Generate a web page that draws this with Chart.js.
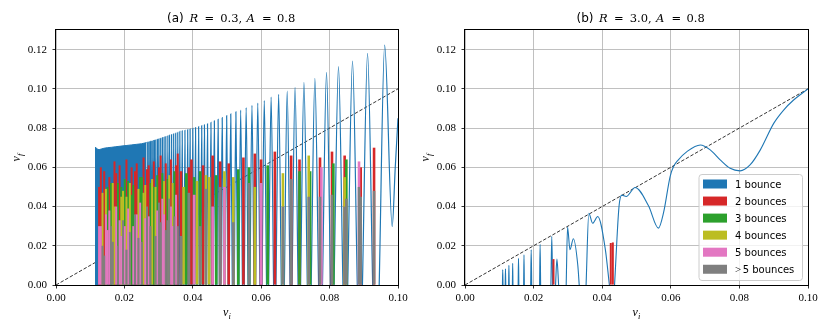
<!DOCTYPE html>
<html><head><meta charset="utf-8">
<script src="https://cdn.jsdelivr.net/npm/chart.js@4/dist/chart.umd.min.js"></script>
<style>
html,body{margin:0;padding:0;background:#fff;}
#wrap{position:relative;width:830px;height:332px;overflow:hidden;}
#ca{position:absolute;left:0;top:0;}
#cb{position:absolute;left:415px;top:0;}
</style></head><body>
<div id="wrap"><canvas id="ca" width="415" height="332"></canvas><canvas id="cb" width="415" height="332"></canvas></div>
<script>
// ---------- shared ----------
const xTicks = [0, 0.02, 0.04, 0.06, 0.08, 0.10];
const yTicks = [0, 0.02, 0.04, 0.06, 0.08, 0.10, 0.12];
const panelTags = ['(a)', '(b)'];
const panelR = ['0.3', '3.0'];
const panelA = ['0.8', '0.8'];
const bounceLabels = ['1 bounce', '2 bounces', '3 bounces', '4 bounces', '5 bounces', '>5 bounces'];
const bounceColors = ['#1f77b4', '#d62728', '#2ca02c', '#bcbd22', '#e377c2', '#7f7f7f'];
const diagX = [0, 0.1];
const diagY = [0, 0.1];

// ---------- panel (a): unresolved 1-bounce band (envelope) ----------
const aDenseX = [0.0114, 0.0118, 0.0122, 0.0126, 0.0132, 0.0140, 0.0150, 0.0162, 0.0175, 0.0190, 0.0205, 0.0220, 0.0235, 0.0250, 0.0265];
const aDenseY = [0.0702, 0.0698, 0.0692, 0.0690, 0.0693, 0.0697, 0.0700, 0.0702, 0.0705, 0.0708, 0.0711, 0.0714, 0.0717, 0.0720, 0.0726];

// ---------- panel (a): resolved 1-bounce arches ----------
const aArchX = [0.0268, 0.0272, 0.0276, 0.0280, 0.0284, 0.0288, 0.0292, 0.0297, 0.0301, 0.0306, 0.0311, 0.0316, 0.0321, 0.0327, 0.0332, 0.0338, 0.0344, 0.0350, 0.0356,
  0.0362, 0.0369, 0.0377, 0.0385, 0.0392, 0.0400, 0.0408, 0.0417, 0.0426, 0.0434, 0.0443, 0.0453, 0.0463, 0.0474, 0.0486, 0.0499, 0.0511, 0.0526, 0.0540, 0.0556,
  0.0573, 0.0590, 0.0609, 0.0629, 0.0651, 0.0676, 0.0699, 0.0725, 0.0757, 0.0791, 0.0826, 0.0867, 0.0911, 0.0961];
const aArchTop = [0.0728, 0.0730, 0.0732, 0.0734, 0.0736, 0.0738, 0.0740, 0.0743, 0.0745, 0.0748, 0.0751, 0.0754, 0.0757, 0.0761, 0.0764, 0.0767, 0.0771, 0.0774, 0.0778,
  0.0783, 0.0786, 0.0789, 0.0792, 0.0795, 0.0799, 0.0803, 0.0807, 0.0812, 0.0817, 0.0822, 0.0829, 0.0837, 0.0845, 0.0853, 0.0863, 0.0872, 0.0883, 0.0892, 0.0904,
  0.0916, 0.0927, 0.0941, 0.0958, 0.0972, 0.0989, 0.1008, 0.1033, 0.1053, 0.1084, 0.1113, 0.1141, 0.1181, 0.1223];
const aArchHalf = [0.00012, 0.00012, 0.00012, 0.00013, 0.00013, 0.00013, 0.00014, 0.00014, 0.00014, 0.00015, 0.00015, 0.00016, 0.00016, 0.00017, 0.00017, 0.00018, 0.00018, 0.00019, 0.00020,
  0.00021, 0.00022, 0.00023, 0.00024, 0.00025, 0.00026, 0.00027, 0.00028, 0.00029, 0.00030, 0.00031, 0.00033, 0.00035, 0.00037, 0.00040, 0.00042, 0.00045, 0.00048, 0.00051, 0.00055,
  0.00058, 0.00062, 0.00066, 0.00072, 0.00078, 0.00083, 0.00088, 0.00098, 0.00108, 0.00118, 0.00130, 0.00140, 0.00150, 0.00160];
const aTailX = [0.0983, 0.0992, 0.1000];
const aTailY = [0.0298, 0.0600, 0.0850];

// ---------- panel (a): multi-bounce columns (height of each bounce count per column) ----------
// first 47 columns: unresolved band; remaining columns: gaps between 1-bounce arches
const denseCount = 47;
const colX = [0.0126,0.0131,0.0136,0.0141,0.0146,0.0151,0.0156,0.0161,0.0166,0.0171,
  0.0176,0.0181,0.0186,0.0191,0.0196,0.0201,0.0206,0.0211,0.0216,0.0221,
  0.0226,0.0231,0.0236,0.0241,0.0246,0.0251,0.0256,0.0261,0.0266,0.0271,
  0.0276,0.0281,0.0286,0.0291,0.0296,0.0301,0.0306,0.0311,0.0316,0.0321,
  0.0326,0.0331,0.0336,0.0341,0.0346,0.0351,0.0356,
  0.03655,0.0373,0.0381,0.03885,0.0396,0.0404,0.04125,0.04215,0.0430,0.04385,
  0.0448,0.0458,0.04685,0.0480,0.04925,0.0505,0.05185,0.0533,0.0548,0.05645,
  0.05815,0.05995,0.0619,0.0640,0.06635,0.06875,0.0712,0.0739,0.0743,0.0772,
  0.0776,0.0807,0.0811,0.0844,0.0849,0.0886,0.0891,0.0930];
const col2 = [.050,.060,0,.058,0,0,.055,0,0,.063, .057,0,.061,0,0,0,.064,0,0,.060,
  0,.058,.062,0,0,0,.065,0,.059,.061, 0,0,.063,0,0,.060,.066,0,0,.062, 0,0,.064,0,0,.061,.067,
  .058,0,0,.060,.064,0,0,0,.061,0, 0,.066,0,.063,0,.062,0,0,.065,0,
  .067,.064,0,.068,0,.066,.064,0,0,.065, 0,.068,0,.066,0,0,.060,.070];
const col3 = [0,0,0,0,0,.050,0,.052,0,0, 0,.052,0,.050,0,.054,0,.053,0,.046,
  .051,0,0,0,.055,.055,0,0,0,0, .052,0,.050,0,.056,0,0,.057,0,0, .054,0,0,0,.058,0,0,
  0,0,.057,0,0,.055,0,.058,0,0, 0,0,.056,0,0,0,0,.059,0,.060,
  0,0,.061,0,0,0,.058,0,.058,0, 0,0,.062,0,.064,0,0,0];
const col4 = [0,0,.047,0,.049,0,0,0,.052,.040, 0,0,0,.045,.048,0,.045,0,.052,0,
  0,0,0,.049,0,0,.047,.051,0,0, 0,.054,0,.050,0,0,0,0,.053,0, 0,.056,0,.052,0,0,0,
  0,.050,0,0,0,0,.053,0,0,.056, .055,0,0,0,.058,0,.055,0,0,0,
  .050,0,0,0,.057,0,0,.066,0,0, 0,0,0,.055,0,0,0,0];
const col5 = [.030,.030,0,0,.036,.028,.038,0,0,0, .040,0,.033,.025,0,.030,0,.039,0,0,
  .030,0,.036,0,.042,0,0,.034,0,.035, 0,0,0,0,.038,0,0,.044,.036,0, 0,0,.040,.030,0,.046,0,
  0,0,0,0,0,.046,0,0,0,0, 0,.040,0,0,.050,0,0,0,0,0,
  0,.052,0,0,0,0,0,0,0,0, .060,0,0,0,0,.063,0,0];
const col6 = [0,0,.020,.015,0,0,0,.030,.022,0, 0,.020,0,0,.033,0,.018,0,.027,0,
  0,.036,0,.024,0,.022,0,0,.040,0, .030,0,0,.025,0,.042,.032,0,0,.028, .033,.044,0,0,.035,0,.030,
  .025,0,0,.047,0,0,0,.030,0,.049, 0,0,0,.050,0,0,.032,0,0,.052,
  0,0,0,0,.040,.054,0,.045,0,.045, 0,.046,0,.040,.044,.050,.045,.048];

// ---------- panel (b) ----------
const bLineX = [0.01092,0.0110,0.01108,0.01108,
  0.01172,0.0118,0.01188,0.01188,
  0.01272,0.0128,0.01288,0.01288,
  0.01382,0.0139,0.01398,0.01398,
  0.01550,0.0156,0.01570,0.01570,
  0.01710,0.0172,0.01730,0.01730,
  0.01915,0.0193,0.01945,0.01945,
  0.02175,0.0219,0.02205,0.02205,
  0.02505,0.0253,0.02555,0.02555,
  0.0264,0.0268,0.0273,0.0273,
  0.0295,0.0299,0.0306,0.0316,0.0329,0.0333,0.0333,
  0.0353,0.0361,0.0372,0.0387,0.0409,0.0421,0.0421,
  0.0436,0.0449,0.0457,0.0470,0.0496,0.0535,0.0564,0.0579,0.0598,0.0608,0.0622,0.0647,0.0686,0.0715,0.0744,0.0773,0.0802,0.0831,0.0861,0.0900,0.0929,0.0958,0.1000];
const bLineY = [0,0.0078,0,null,
  0,0.0083,0,null,
  0,0.0100,0,null,
  0,0.0110,0,null,
  0,0.0136,0,null,
  0,0.0154,0,null,
  0,0.0180,0,null,
  0,0.0207,0,null,
  0,0.0248,0,null,
  0,0.0132,0,null,
  0,0.0295,0.0180,0.0236,0.0098,0,null,
  0,0.0366,0.0315,0.0349,0.0183,0,null,
  0,0.0400,0.0458,0.0451,0.0497,0.0404,0.0290,0.0370,0.0553,0.0604,0.0638,0.0680,0.0714,0.0689,0.0638,0.0595,0.0582,0.0612,0.0689,0.0824,0.0892,0.0943,0.1000];
const bRedX = [0.0258, 0.0425, 0.0431];
const bRedY = [0.0132, 0.0214, 0.0217];

// ---------- build ----------
const pts = (xs, ys) => xs.map((x, i) => ({x, y: ys[i]}));
function archPoints() {
  const p = [];
  for (let i = 0; i < aArchX.length; i++) {
    p.push({x: aArchX[i] - aArchHalf[i], y: 0}, {x: aArchX[i], y: aArchTop[i]});
    if (i < aArchX.length - 1) {
      p.push({x: aArchX[i] + aArchHalf[i], y: 0}, {x: aArchX[i] + aArchHalf[i], y: null});
    }
  }
  aTailX.forEach((x, j) => p.push({x, y: aTailY[j]}));
  return p;
}
const colPts = (arr, dense) => colX.map((x, i) => ({x, y: arr[i], d: i < denseCount}))
  .filter(p => p.y > 0 && p.d === dense).map(p => ({x: p.x, y: p.y}));

const tickFont = {family: '"Liberation Serif", "Times New Roman", serif', size: 11};
function gridOpts() {
  return {color: '#b0b0b0', lineWidth: 0.8, drawTicks: true, tickLength: 3.5, tickColor: '#000', tickWidth: 0.8, offset: false};
}
function makeScales(yW) {
  return {
    x: {type: 'linear', min: 0, max: 0.1, offset: false,
      afterBuildTicks: s => { s.ticks = xTicks.map(v => ({value: v})); },
      afterFit: s => { s.height = 47; },
      ticks: {callback: v => Number(v).toFixed(2), font: tickFont, color: '#000', padding: 3, maxRotation: 0, minRotation: 0, autoSkip: false},
      grid: gridOpts(), border: {display: false}},
    y: {type: 'linear', min: 0, max: 0.13, stacked: false,
      afterBuildTicks: s => { s.ticks = yTicks.map(v => ({value: v})); },
      afterFit: s => { s.width = yW; },
      ticks: {callback: v => Number(v).toFixed(2), font: tickFont, color: '#000', padding: 5.5, autoSkip: false},
      grid: gridOpts(), border: {display: false}}
  };
}

const framePlugin = {
  id: 'frame',
  afterDatasetsDraw(chart) {
    const a = chart.chartArea, ctx = chart.ctx;
    ctx.save();
    ctx.strokeStyle = '#000'; ctx.lineWidth = 1;
    ctx.strokeRect(a.left - 0.5, a.top - 0.5, a.right - a.left + 1, a.bottom - a.top + 1);
    ctx.restore();
  }
};

function textPlugin(k) {
  return {
    id: 'txt' + k,
    afterDraw(chart) {
      const a = chart.chartArea, ctx = chart.ctx;
      ctx.save();
      ctx.fillStyle = '#000'; ctx.textAlign = 'left'; ctx.textBaseline = 'alphabetic';
      const sans = '12px "DejaVu Sans"', it = 'italic 11.5px "DejaVu Serif"', rm = '11.5px "DejaVu Serif"';
      const cx = (a.left + a.right) / 2, x0 = cx - 60, ty = 22;
      [[panelTags[k], sans, 0], ['R', it, 22.6], ['=', rm, 37.5], [panelR[k] + ',', rm, 53.3],
       ['A', it, 79.5], ['=', rm, 95], [panelA[k], rm, 110]].forEach(([t, f, dx]) => {
        ctx.font = f; ctx.fillText(t, x0 + dx, ty);
      });
      // x label v_i
      ctx.font = 'italic 12px "Liberation Serif"';
      ctx.fillText('v', cx - 4, 316);
      ctx.font = 'italic 8.5px "Liberation Serif"';
      ctx.fillText('i', cx + 1.5, 318.5);
      // y label v_f
      const cy = (a.top + a.bottom) / 2;
      ctx.translate(k === 0 ? 20 : 14, cy);
      ctx.rotate(-Math.PI / 2);
      ctx.font = 'italic 12px "Liberation Serif"';
      ctx.fillText('v', -4, 0);
      ctx.font = 'italic 8.5px "Liberation Serif"';
      ctx.fillText('f', 1.5, 2.5);
      ctx.restore();
    }
  };
}

const legendPlugin = {
  id: 'bounceLegend',
  afterDraw(chart) {
    const ctx = chart.ctx, a = chart.chartArea;
    const L = a.right - 109.5, T = a.top + 144, W = 103.5, H = 106;
    ctx.save();
    ctx.beginPath();
    if (ctx.roundRect) ctx.roundRect(L + 0.5, T + 0.5, W, H, 3); else ctx.rect(L + 0.5, T + 0.5, W, H);
    ctx.fillStyle = 'rgba(255,255,255,0.8)'; ctx.fill();
    ctx.strokeStyle = '#cccccc'; ctx.lineWidth = 1; ctx.stroke();
    bounceLabels.forEach((lab, i) => {
      const cy = T + 10 + i * 17.05;
      ctx.fillStyle = bounceColors[i];
      ctx.fillRect(L + 4.5, cy - 4.5, 24, 9);
      ctx.fillStyle = '#000'; ctx.textBaseline = 'alphabetic'; ctx.textAlign = 'left';
      let x = L + 36.5, t = lab;
      if (t.startsWith('>')) {
        ctx.font = '11px "Liberation Serif"';
        ctx.fillText('>', x, cy + 3.6);
        x += ctx.measureText('>').width + 1.5; t = t.slice(1);
      }
      ctx.font = '10px "DejaVu Sans"';
      ctx.fillText(t, x, cy + 3.6);
    });
    ctx.restore();
  }
};

function barSet(data, color, order, thick) {
  return {type: 'bar', data, backgroundColor: color, borderWidth: 0, barThickness: thick, grouped: false, inflateAmount: 0, order};
}
const common = {responsive: false, animation: false, devicePixelRatio: 1, events: [],
  plugins: {legend: {display: false}, tooltip: {enabled: false}, title: {display: false}}};

const colSeries = [col2, col3, col4, col5, col6];
const colSets = [];
colSeries.forEach((arr, k) => {
  colSets.push(barSet(colPts(arr, true), bounceColors[k + 1], 5 - k, 2));
  colSets.push(barSet(colPts(arr, false), bounceColors[k + 1], 5 - k, 2.6));
});

new Chart(document.getElementById('ca'), {
  type: 'line',
  data: {datasets: [
    {type: 'line', data: pts(diagX, diagY), borderColor: '#000', borderWidth: 0.8, borderDash: [3.5, 1.8], pointRadius: 0, tension: 0, order: 20},
    {type: 'line', data: pts(aDenseX, aDenseY), borderColor: bounceColors[0], backgroundColor: bounceColors[0], borderWidth: 1, fill: 'origin', pointRadius: 0, tension: 0, order: 19},
    {type: 'line', data: archPoints(), borderColor: bounceColors[0], borderWidth: 1.2, fill: false, pointRadius: 0, cubicInterpolationMode: 'monotone', spanGaps: false, order: 18}
  ].concat(colSets)},
  options: Object.assign({}, common, {layout: {padding: {left: 0, right: 17, top: 30, bottom: 0}}, scales: makeScales(56)}),
  plugins: [framePlugin, textPlugin(0)]
});

new Chart(document.getElementById('cb'), {
  type: 'line',
  data: {datasets: [
    {type: 'line', data: pts(diagX, diagY), borderColor: '#000', borderWidth: 0.8, borderDash: [3.5, 1.8], pointRadius: 0, tension: 0, order: 20},
    {type: 'line', data: pts(bLineX, bLineY), borderColor: bounceColors[0], borderWidth: 1.1, fill: false, pointRadius: 0, cubicInterpolationMode: 'monotone', spanGaps: false, order: 18},
    barSet(pts(bRedX, bRedY), bounceColors[1], 5, 2)
  ]},
  options: Object.assign({}, common, {layout: {padding: {left: 0, right: 22, top: 30, bottom: 0}}, scales: makeScales(50)}),
  plugins: [framePlugin, textPlugin(1), legendPlugin]
});
</script>
</body></html>
